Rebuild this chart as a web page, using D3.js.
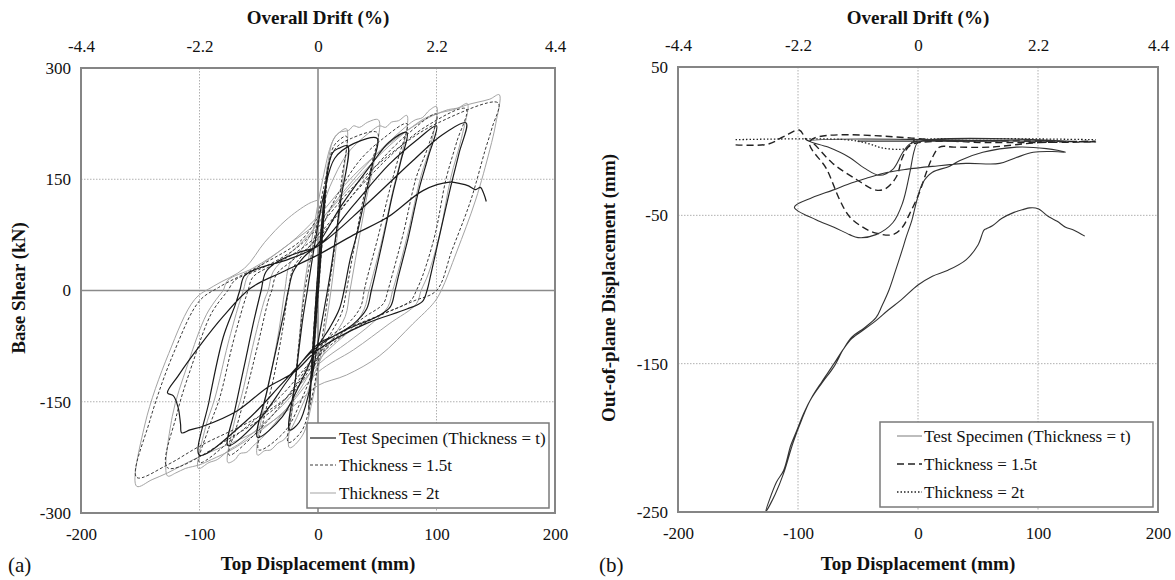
<!DOCTYPE html>
<html>
<head>
<meta charset="utf-8">
<script src="https://cdn.jsdelivr.net/npm/d3@7"></script>
<style>
body { margin: 0; background: #fff; }
text { font-family: 'Liberation Serif', 'Times New Roman', serif; fill: #111; }
</style>
</head>
<body>
<svg id='chart'></svg>
<script>
// tick values
var dispTicks = [-200, -100, 0, 100, 200];
var driftTicks = ['-4.4', '-2.2', '0', '2.2', '4.4'];
var shearTicks = [300, 150, 0, -150, -300];
var oopTicks = [50, -50, -150, -250];

// (a) base shear [top displacement mm, base shear kN]
var shearTest = [
 [0,0],[3,60],[-3,-60],[5,110],[-5,-115],[7,150],[-7,-150],[12,185],[18,192],[25,195],
 [19,120],[12,40],[8,0],[0,-70],[-8,-140],[-16,-178],[-24,-188],
 [-19,-120],[-13,-40],[-9,0],[-3,60],[5,130],[14,178],[30,198],[50,205],
 [46,170],[41,135],[33,77],[27,41],[22,0],[18,-25],[10,-50],[0,-75],[-15,-125],[-30,-170],[-51,-198],
 [-43,-135],[-35,-77],[-29,-32],[-25,0],[-21,25],[-12,45],[0,63],[20,115],[45,170],[60,200],[75,213],
 [70,175],[63,130],[55,70],[48,20],[45,0],[41,-25],[30,-45],[15,-60],[0,-72],[-25,-120],[-50,-175],[-76,-209],
 [-70,-160],[-62,-100],[-54,-40],[-48,0],[-44,25],[-33,40],[-15,52],[0,60],[30,115],[60,170],[85,205],[100,222],
 [93,180],[85,135],[76,70],[68,20],[65,0],[61,-22],[50,-35],[25,-52],[0,-75],[-30,-125],[-60,-175],[-100,-222],
 [-92,-150],[-80,-63],[-70,-20],[-66,0],[-62,20],[-50,30],[-25,42],[0,60],[40,115],[80,175],[105,210],[125,226],
 [119,185],[112,140],[102,70],[95,20],[92,0],[88,-15],[75,-25],[40,-45],[0,-80],[-20,-110],[-43,-131],[-68,-162],
 [-97,-183],[-108,-188],[-115,-192],[-116,-180],[-118,-158],[-122,-142],[-127,-138],
 [-118,-115],[-100,-75],[-80,-35],[-57,3],[-30,25],[0,48],[30,75],[59,99],[89,135],[111,146],
 [120,144],[127,141],[133,136],[137,139],[140,130],[142,120]
];
var shear15t = [
 [0,0],[4,90],[-4,-90],[8,160],[-8,-160],[12,190],[18,203],[24,208],
 [20,150],[15,70],[9,0],[2,-80],[-6,-150],[-14,-190],[-25,-205],
 [-21,-150],[-16,-70],[-11,0],[-3,70],[5,140],[14,190],[28,205],[50,213],
 [46,175],[38,122],[30,54],[24,0],[20,-30],[10,-60],[0,-90],[-12,-140],[-28,-190],[-50,-215],
 [-46,-175],[-38,-122],[-30,-54],[-25,0],[-21,30],[-12,50],[0,75],[15,125],[35,175],[55,205],[75,225],
 [68,180],[61,139],[50,68],[41,14],[39,0],[36,-22],[25,-45],[10,-62],[0,-80],[-20,-130],[-45,-180],[-75,-222],
 [-68,-180],[-61,-139],[-50,-68],[-42,-14],[-39,0],[-35,22],[-22,40],[0,70],[25,120],[50,170],[75,210],[100,238],
 [92,190],[83,153],[72,77],[63,23],[59,0],[55,-18],[40,-35],[20,-58],[0,-85],[-30,-140],[-65,-190],[-100,-232],
 [-92,-185],[-83,-145],[-72,-72],[-63,-20],[-59,0],[-55,18],[-40,33],[-20,50],[0,75],[30,130],[60,180],[90,220],[125,245],
 [117,200],[108,150],[99,77],[89,23],[83,0],[78,-14],[50,-35],[20,-62],[0,-90],[-30,-150],[-70,-195],[-127,-239],
 [-119,-166],[-106,-99],[-90,-31],[-78,-4],[-76,0],[-70,14],[-50,28],[-20,55],[0,85],[30,140],[70,195],[100,225],[152,253],
 [147,220],[141,189],[129,122],[113,54],[100,0],[81,-14],[56,-31],[18,-58],[0,-90],[-20,-135],[-50,-170],
 [-100,-210],[-127,-235],[-153,-252],
 [-142,-176],[-122,-85],[-100,-14],[-84,4],[-46,36],[-14,68],[0,99]
];
var shear2t = [
 [0,0],[4,100],[-4,-100],[8,170],[-8,-170],[12,200],[18,213],[24,218],
 [21,150],[16,70],[11,0],[3,-80],[-5,-150],[-13,-195],[-24,-212],
 [-21,-150],[-16,-70],[-12,0],[-4,80],[4,150],[12,200],[18,213],[26,216],[30,222],[35,220],[42,227],[51,230],
 [48,180],[41,125],[33,55],[27,0],[23,-35],[12,-65],[0,-100],[-12,-150],[-28,-200],[-34,-206],[-40,-215],[-45,-216],[-51,-222],
 [-48,-175],[-41,-122],[-33,-54],[-28,0],[-24,35],[-14,55],[0,95],[10,140],[25,185],[45,215],[52,222],[57,220],[62,227],[68,229],[75,236],
 [71,185],[64,140],[54,68],[45,12],[43,0],[39,-25],[28,-52],[12,-75],[0,-95],[-20,-145],[-45,-195],[-55,-210],[-60,-218],[-66,-220],[-70,-228],[-76,-232],
 [-71,-180],[-64,-139],[-54,-68],[-45,-12],[-42,0],[-38,25],[-25,48],[-12,68],[0,90],[25,140],[50,185],[75,222],[82,230],[88,233],[94,243],[100,248],
 [95,195],[87,155],[76,78],[67,22],[63,0],[59,-22],[45,-45],[25,-70],[0,-100],[-30,-155],[-65,-205],[-75,-215],[-85,-228],[-92,-232],[-101,-240],
 [-95,-185],[-87,-145],[-76,-72],[-67,-20],[-63,0],[-59,20],[-45,38],[-25,62],[0,92],[30,145],[60,195],[90,232],[100,238],[110,244],[118,246],[126,252],
 [121,205],[112,152],[103,78],[93,22],[87,0],[83,-18],[60,-45],[30,-80],[0,-110],[-30,-165],[-70,-212],[-90,-228],[-100,-235],[-112,-240],[-120,-246],[-127,-250],
 [-123,-170],[-110,-100],[-94,-32],[-82,-4],[-80,0],[-76,14],[-55,30],[-25,62],[0,100],[30,155],[70,210],[100,238],[115,244],[125,250],[135,254],[145,258],[153,264],
 [150,225],[145,190],[133,122],[117,52],[104,0],[98,-16],[80,-45],[52,-88],[24,-114],[0,-128],[-20,-155],[-50,-188],[-75,-207],[-100,-224],[-115,-236],[-127,-246],[-140,-255],[-153,-264],
 [-146,-180],[-126,-85],[-104,-12],[-88,6],[-62,30],[-45,65],[-27,95],[-8,117],[0,122]
];

// (b) out-of-plane displacement [top displacement mm, out-of-plane mm]
var oopTest = [
 [0,0],[50,0],[-50,0],[75,0],[-90,0],
 [-75,-4],[-57,-11],[-45,-18],[-32,-23],[-21,-19],[-13,-8],[-7,-2],[0,0],[100,0],[125,0],[0,-1],
 [-3,-6],[-7,-22],[-13,-42],[-21,-55],[-35,-63],[-50,-65],[-57,-63],[-70,-58],[-85,-53],[-103,-44.5],
 [-88,-38],[-71,-33],[-55,-28],[-43,-25],[-25,-21],[-10,-19],[12,-17],[40,-15],[68,-15],[82,-11],[96,-7.5],[112,-7],[123,-7.4],
 [107,-5],[82,-4],[54,-7.5],[35,-13],[26,-17],[12,-21],[4,-28],[-1,-40],[-5,-53],[-10,-65],[-13,-73],
 [-19,-88],[-24,-100],[-30,-111],[-35,-119],[-45,-126],[-55,-132],[-62,-140],[-70,-152],[-80,-163],[-90,-175],
 [-97,-188],[-104,-203],[-112,-224],[-119,-238],[-127,-250],
 [-118,-230],[-112,-222],[-106,-205],[-101,-195],[-95,-183],[-88,-172],[-80,-162],[-70,-150],[-62,-140],[-55,-133],
 [-45,-127],[-35,-121],[-25,-114],[-14,-107],[0,-97],[12,-91],[25,-87],[40,-80],[50,-70],[55,-60],[57,-59],[62,-57],
 [70,-52],[80,-48],[88,-46],[93,-45],[100,-45.5],[109,-51],[116,-54],[123,-58],[130,-60],[139,-64]
];
var oop15t = [
 [-152,-2.5],[-125,-2],[-112,3],[-99,7.5],[-93,1],[-88,-1],[-71,-15],[-51,-26],[-35,-33],[-27,-32],[-18,-24],
 [-13,-11],[-7,-3],[0,-1],[148,-0.5],[60,-1],[-90,0],
 [-76,-19],[-65,-40],[-57,-51],[-46,-58],[-35,-62],[-21,-63],[-13,-58],[-7,-49],[1,-35],[7,-21],[12,-11],[18,-4],
 [30,-4],[60,-4],[100,-1],[148,0]
];
var oop2t = [
 [-152,1],[-60,1],[-42,-1.5],[-30,-4.5],[-15,-5.5],[-8,-4],[-4,0],[0,1],[148,1]
];

var svg = d3.select('#chart').attr('width', 1175).attr('height', 580);

var panelA = { left: 81, right: 555, top: 68, bottom: 513 };
var panelB = { left: 678, right: 1158, top: 67, bottom: 512 };

function drawPanel(d, cfg) {
	var g = svg.append('g');
	var x = d3.scaleLinear().domain([-200, 200]).range([d.left, d.right]);
	var xd = d3.scalePoint().domain(driftTicks).range([d.left, d.right]);
	var y = d3.scaleLinear().domain(cfg.yDomain).range([d.bottom, d.top]);

	// grid
	dispTicks.slice(1, -1).forEach(function(v) {
		var solid = cfg.zeroSolid && v == 0;
		g.append('line')
			.attr('x1', x(v)).attr('x2', x(v)).attr('y1', d.top).attr('y2', d.bottom)
			.attr('stroke', solid ? '#8a8a8a' : '#b0b0b0')
			.attr('stroke-width', solid ? 1.6 : 1)
			.attr('stroke-dasharray', solid ? null : '1.5,1.5');
	});
	cfg.yTicks.filter(v => v != cfg.yDomain[0] && v != cfg.yDomain[1]).forEach(function(v) {
		var solid = cfg.zeroSolid && v == 0;
		g.append('line')
			.attr('x1', d.left).attr('x2', d.right).attr('y1', y(v)).attr('y2', y(v))
			.attr('stroke', solid ? '#8a8a8a' : '#b0b0b0')
			.attr('stroke-width', solid ? 1.6 : 1)
			.attr('stroke-dasharray', solid ? null : '1.5,1.5');
	});

	// series
	var clipId = 'clip' + cfg.tag;
	g.append('clipPath').attr('id', clipId)
		.append('rect').attr('x', d.left).attr('y', d.top)
		.attr('width', d.right - d.left).attr('height', d.bottom - d.top);
	var line = d3.line().x(p => x(p[0])).y(p => y(p[1])).curve(d3.curveCatmullRom.alpha(0.5));
	cfg.series.forEach(function(s) {
		g.append('path')
			.attr('clip-path', 'url(#' + clipId + ')')
			.attr('d', line(s.data))
			.attr('fill', 'none')
			.attr('stroke', s.stroke)
			.attr('stroke-width', s.width)
			.attr('stroke-dasharray', s.dash)
			.attr('stroke-linejoin', 'round');
	});

	// frame
	g.append('rect')
		.attr('x', d.left).attr('y', d.top)
		.attr('width', d.right - d.left).attr('height', d.bottom - d.top)
		.attr('fill', 'none').attr('stroke', '#858585').attr('stroke-width', 2);

	// axes (plain hyphen minus as in the original)
	var fmt = v => String(v);
	var bottom = g.append('g').attr('transform', 'translate(0,' + d.bottom + ')')
		.call(d3.axisBottom(x).tickValues(dispTicks).tickSize(0).tickPadding(15).tickFormat(fmt));
	var top = g.append('g').attr('transform', 'translate(0,' + d.top + ')')
		.call(d3.axisTop(xd).tickSize(0).tickPadding(16));
	var left = g.append('g').attr('transform', 'translate(' + d.left + ',0)')
		.call(d3.axisLeft(y).tickValues(cfg.yTicks).tickSize(0).tickPadding(10).tickFormat(fmt));
	[bottom, top, left].forEach(function(a) {
		a.select('.domain').remove();
		a.selectAll('text').attr('font-size', 17).attr('font-family', "'Liberation Serif', serif").attr('fill', '#111');
	});

	// titles
	var cx = (d.left + d.right) / 2;
	g.append('text').attr('x', cx).attr('y', 24).attr('text-anchor', 'middle')
		.attr('font-size', 19).attr('font-weight', 'bold').text('Overall Drift (%)');
	g.append('text').attr('x', cx).attr('y', 570).attr('text-anchor', 'middle')
		.attr('font-size', 19).attr('font-weight', 'bold').text('Top Displacement (mm)');
	g.append('text')
		.attr('transform', 'translate(' + cfg.yTitleX + ',' + 288 + ') rotate(-90)')
		.attr('text-anchor', 'middle').attr('dominant-baseline', 'central')
		.attr('font-size', 19).attr('font-weight', 'bold').text(cfg.yTitle);
	g.append('text').attr('x', cfg.tagX).attr('y', 572)
		.attr('font-family', "'Liberation Sans', Arial, sans-serif")
		.attr('font-size', 21).text('(' + cfg.tag + ')');

	// legend
	var L = cfg.legend;
	g.append('rect').attr('x', L.x).attr('y', L.y).attr('width', L.w).attr('height', L.h)
		.attr('fill', '#fff').attr('stroke', '#7a7a7a').attr('stroke-width', 1.5);
	cfg.series.slice().reverse().forEach(function(s, i) {
		var ry = L.rows[i];
		g.append('line').attr('x1', L.lx0).attr('x2', L.lx1).attr('y1', ry).attr('y2', ry)
			.attr('stroke', s.legendStroke || s.stroke).attr('stroke-width', s.width)
			.attr('stroke-dasharray', s.dash);
		g.append('text').attr('x', L.tx).attr('y', ry).attr('dy', '0.35em')
			.attr('font-size', 17).text(s.name);
	});
}

drawPanel(panelA, {
	tag: 'a', tagX: 8,
	yDomain: [-300, 300], yTicks: shearTicks, zeroSolid: true,
	yTitle: 'Base Shear (kN)', yTitleX: 18,
	series: [
		{ name: 'Thickness = 2t', data: shear2t, stroke: '#a3a3a3', width: 1, dash: null },
		{ name: 'Thickness = 1.5t', data: shear15t, stroke: '#3a3a3a', width: 1, dash: '3,2' },
		{ name: 'Test Specimen (Thickness = t)', data: shearTest, stroke: '#1a1a1a', width: 1.2, dash: null }
	],
	legend: { x: 307, y: 423, w: 242, h: 85, lx0: 310, lx1: 336, tx: 339, rows: [438, 465, 493] }
});

drawPanel(panelB, {
	tag: 'b', tagX: 599,
	yDomain: [-250, 50], yTicks: oopTicks, zeroSolid: false,
	yTitle: 'Out-of-plane Displacement (mm)', yTitleX: 608,
	series: [
		{ name: 'Thickness = 2t', data: oop2t, stroke: '#222', width: 1.3, dash: '1.5,2' },
		{ name: 'Thickness = 1.5t', data: oop15t, stroke: '#222', width: 1.4, dash: '7,4' },
		{ name: 'Test Specimen (Thickness = t)', data: oopTest, stroke: '#333', width: 1.1, dash: null, legendStroke: '#888' }
	],
	legend: { x: 880, y: 422, w: 273, h: 85, lx0: 897, lx1: 922, tx: 924, rows: [436, 464, 492] }
});
</script>
</body>
</html>
